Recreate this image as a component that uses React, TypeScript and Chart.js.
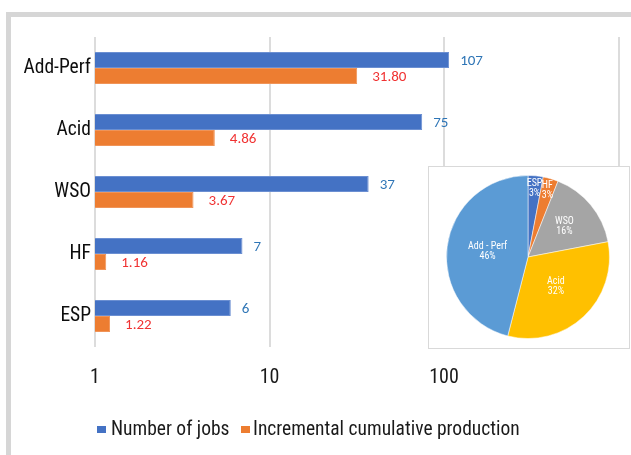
import React, { useEffect, useRef } from 'react';
import { Chart, registerables } from 'chart.js';

Chart.register(...registerables);

const categories = ['Add-Perf', 'Acid', 'WSO', 'HF', 'ESP'];
const jobs = [107, 75, 37, 7, 6];
const production = [31.8, 4.86, 3.67, 1.16, 1.22];
const productionLabels = ['31.80', '4.86', '3.67', '1.16', '1.22'];
const xTicks = [1, 10, 100, 1000];
const pieLabels = ['ESP', 'HF', 'WSO', 'Acid', 'Add - Perf'];
const pieShares = [3, 3, 16, 32, 46];

const pieColors = ['#4472c4', '#ed7d31', '#a5a5a5', '#ffc000', '#5b9bd5'];
const NARROW = '"Roboto Condensed", "Liberation Sans", sans-serif';
const LABEL_FONT = '"Carlito", "Liberation Sans", sans-serif';

export default function App() {
  const barRef = useRef<HTMLCanvasElement>(null);
  const pieRef = useRef<HTMLCanvasElement>(null);

  useEffect(() => {
    const barLabels = {
      id: 'barLabels',
      afterDatasetsDraw(chart: any) {
        const ctx = chart.ctx;
        ctx.save();
        ctx.font = '15px ' + LABEL_FONT;
        ctx.textBaseline = 'middle';
        ctx.textAlign = 'left';
        chart.data.datasets.forEach((_ds: any, di: number) => {
          const meta = chart.getDatasetMeta(di);
          meta.data.forEach((el: any, i: number) => {
            ctx.fillStyle = di === 0 ? '#2e75b6' : '#f03232';
            const text = di === 0 ? String(jobs[i]) : productionLabels[i];
            ctx.fillText(text, el.x + (di === 0 ? 11 : 15), el.y + 1);
          });
        });
        ctx.restore();
      },
    };

    const bar = new Chart(barRef.current as HTMLCanvasElement, {
      type: 'bar',
      data: {
        labels: categories,
        datasets: [
          {
            label: 'Number of jobs',
            data: jobs,
            backgroundColor: '#4472c4',
            borderColor: '#6b8fd2',
            borderWidth: 1,
            categoryPercentage: 0.516,
            barPercentage: 1,
          },
          {
            label: 'Incremental cumulative production',
            data: production,
            backgroundColor: '#ed7d31',
            borderColor: '#f09458',
            borderWidth: 1,
            categoryPercentage: 0.516,
            barPercentage: 1,
          },
        ],
      },
      options: {
        indexAxis: 'y',
        responsive: false,
        animation: false,
        devicePixelRatio: 1,
        layout: { autoPadding: false, padding: { left: 0, right: 12.5, top: 37, bottom: 58 } },
        plugins: { legend: { display: false }, tooltip: { enabled: false } },
        scales: {
          x: {
            type: 'logarithmic',
            min: 1,
            max: 1000,
            afterBuildTicks: (axis: any) => {
              axis.ticks = xTicks.map((v) => ({ value: v }));
            },
            afterFit: (s: any) => {
              s.height = 50;
              s.paddingLeft = 0;
              s.paddingRight = 0;
            },
            grid: { color: '#dcdcdc', lineWidth: 2, drawTicks: false },
            border: { display: false },
            ticks: {
              padding: 19,
              autoSkip: false,
              maxRotation: 0,
              color: '#1a1a1a',
              font: { family: NARROW, size: 20 },
              callback: (v: any) => (Number(v) === 1000 ? '' : String(v)),
            },
          },
          y: {
            afterFit: (s: any) => {
              s.width = 95;
              s.paddingTop = 0;
              s.paddingBottom = 0;
            },
            grid: { display: false, drawTicks: false },
            border: { display: false },
            ticks: { padding: 4, color: '#0d0d0d', font: { family: NARROW, size: 19.5 } },
          },
        },
      } as any,
      plugins: [barLabels],
    });

    const pieText = {
      id: 'pieText',
      afterDatasetsDraw(chart: any) {
        const ctx = chart.ctx;
        const meta = chart.getDatasetMeta(0);
        ctx.save();
        ctx.font = '10px ' + NARROW;
        ctx.fillStyle = '#ffffff';
        ctx.textAlign = 'center';
        ctx.textBaseline = 'middle';
        meta.data.forEach((el: any, i: number) => {
          const p = el.getProps(['x', 'y', 'startAngle', 'endAngle', 'outerRadius'], true);
          const mid = (p.startAngle + p.endAngle) / 2;
          const share = pieShares[i];
          const f = share < 5 ? 0.85 : share < 20 ? 0.58 : 0.5;
          const px = p.x + Math.cos(mid) * p.outerRadius * f;
          const py = p.y + Math.sin(mid) * p.outerRadius * f;
          ctx.fillText(pieLabels[i], px, py - 5);
          ctx.fillText(share + '%', px, py + 5);
        });
        ctx.restore();
      },
    };

    const pie = new Chart(pieRef.current as HTMLCanvasElement, {
      type: 'pie',
      data: {
        labels: pieLabels,
        datasets: [
          {
            data: pieShares,
            backgroundColor: pieColors,
            borderColor: 'rgba(255,255,255,0.5)',
            borderWidth: 1,
          },
        ],
      },
      options: {
        responsive: false,
        animation: false,
        devicePixelRatio: 1,
        layout: { padding: 0 },
        plugins: { legend: { display: false }, tooltip: { enabled: false } },
      } as any,
      plugins: [pieText],
    });

    return () => {
      bar.destroy();
      pie.destroy();
    };
  }, []);

  const legendText: React.CSSProperties = {
    position: 'absolute',
    top: 417,
    height: 24,
    lineHeight: '24px',
    fontSize: 19.5,
    fontFamily: NARROW,
    color: '#1a1a1a',
    whiteSpace: 'nowrap',
  };

  return (
    <div
      style={{
        position: 'fixed',
        left: 0,
        top: 0,
        width: 631,
        height: 455,
        overflow: 'hidden',
        background: '#ffffff',
      }}
    >
      <div
        style={{
          position: 'absolute',
          left: 6,
          top: 12,
          width: 700,
          height: 500,
          borderTop: '5px solid #d6d6d6',
          borderLeft: '5px solid #d6d6d6',
        }}
      />
      <canvas
        ref={barRef}
        width={631}
        height={455}
        style={{ position: 'absolute', left: 0, top: 0, width: 631, height: 455 }}
      />
      <div
        style={{
          position: 'absolute',
          left: 428,
          top: 166,
          width: 200,
          height: 181,
          border: '1px solid #d9d9d9',
          background: '#ffffff',
        }}
      />
      <canvas
        ref={pieRef}
        width={164}
        height={164}
        style={{ position: 'absolute', left: 446, top: 175, width: 164, height: 164 }}
      />
      <div style={{ position: 'absolute', left: 97, top: 426, width: 9, height: 7, background: '#4472c4' }} />
      <span style={{ ...legendText, left: 111 }}>Number of jobs</span>
      <div style={{ position: 'absolute', left: 241, top: 426, width: 9, height: 7, background: '#ed7d31' }} />
      <span style={{ ...legendText, left: 253 }}>Incremental cumulative production</span>
    </div>
  );
}
